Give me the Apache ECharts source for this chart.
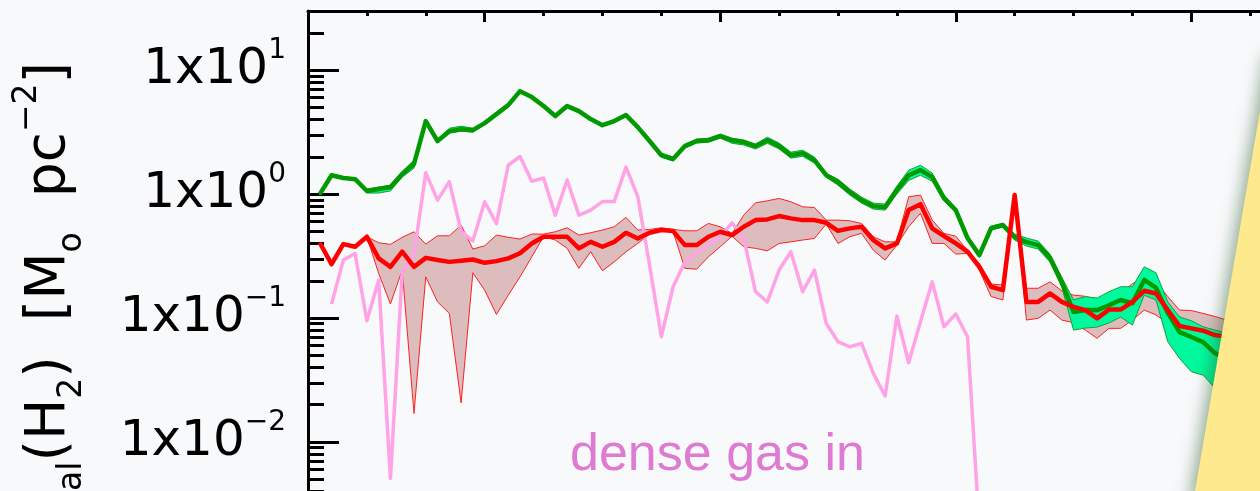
<!DOCTYPE html>
<html><head><meta charset="utf-8">
<script src="https://cdn.jsdelivr.net/npm/echarts@6/dist/echarts.min.js"></script>
<style>html,body{margin:0;padding:0;background:#f8f9fb;} #c{width:1260px;height:491px;}</style>
</head><body><div id="c"></div>
<script>
// ---- data ----
const radius = [1.2,1.4,1.6,1.8,2.0,2.2,2.4,2.6,2.8,3.0,3.2,3.4,3.6,3.8,4.0,4.2,4.4,4.6,4.8,5.0,
  5.2,5.4,5.6,5.8,6.0,6.2,6.4,6.6,6.8,7.0,7.2,7.4,7.6,7.8,8.0,8.2,8.4,8.6,8.8,9.0,
  9.2,9.4,9.6,9.8,10.0,10.2,10.4,10.6,10.8,11.0,11.2,11.4,11.6,11.8,12.0,12.2,12.4,12.6,12.8,13.0,
  13.2,13.4,13.6,13.8,14.0,14.2,14.4,14.6,14.8,15.0,15.2,15.4,15.6,15.8,16.0,16.2,16.4,16.6];

const greenLine = [1.00,1.42,1.35,1.32,1.06,1.10,1.14,1.45,1.75,3.88,
  2.68,3.22,3.34,3.28,3.74,4.42,5.22,6.77,6.06,5.13,
  4.26,5.13,4.67,4.03,3.60,3.88,4.34,3.47,2.68,2.06,
  1.92,2.44,2.68,2.72,2.94,2.72,2.63,2.44,2.72,2.44,
  2.06,2.14,1.88,1.42,1.25,1.04,0.894,0.800,0.785,1.08,
  1.42,1.56,1.37,0.929,0.743,0.442,0.322,0.532,0.562,0.450,
  0.410,0.388,0.305,0.195,0.112,0.116,0.116,0.127,0.140,0.132,
  0.203,0.175,0.110,0.0771,0.0703,0.0640,0.0522,0.0476];
const greenUpper = [1.02,1.45,1.38,1.35,1.10,1.14,1.18,1.53,1.88,3.95,
  2.73,3.40,3.53,3.40,3.81,4.50,5.32,6.90,6.17,5.23,
  4.34,5.23,4.76,4.11,3.67,3.95,4.42,3.60,2.78,2.14,
  1.99,2.53,2.78,2.82,3.05,2.82,2.73,2.53,2.88,2.58,
  2.18,2.26,1.99,1.47,1.32,1.10,0.945,0.846,0.830,1.16,
  1.56,1.71,1.48,0.982,0.771,0.459,0.334,0.552,0.583,0.476,
  0.442,0.418,0.328,0.214,0.140,0.149,0.145,0.163,0.179,0.179,
  0.259,0.232,0.135,0.102,0.0951,0.0851,0.080,0.0757];
const greenLower = [0.98,1.39,1.33,1.30,1.02,1.02,1.06,1.37,1.62,3.81,
  2.63,3.10,3.22,3.16,3.67,4.34,5.12,6.65,5.95,5.04,
  4.18,5.04,4.58,3.96,3.53,3.81,4.26,3.34,2.58,1.98,
  1.85,2.35,2.58,2.62,2.83,2.57,2.49,2.31,2.57,2.31,
  1.95,2.02,1.78,1.37,1.18,0.984,0.846,0.757,0.743,1.00,
  1.29,1.42,1.27,0.879,0.716,0.426,0.310,0.513,0.541,0.426,
  0.381,0.360,0.283,0.178,0.080,0.083,0.0846,0.0912,0.102,0.0878,
  0.153,0.140,0.0644,0.0473,0.0369,0.0347,0.0272,0.0218];

const redLine = [0.405,0.272,0.395,0.376,0.453,0.303,0.259,0.343,0.259,0.306,
  0.294,0.284,0.290,0.297,0.279,0.288,0.303,0.333,0.400,0.453,
  0.453,0.453,0.365,0.412,0.376,0.412,0.488,0.439,0.488,0.513,
  0.503,0.388,0.388,0.453,0.497,0.467,0.545,0.617,0.625,0.665,
  0.637,0.617,0.617,0.587,0.506,0.529,0.545,0.426,0.365,0.400,
  0.743,0.830,0.529,0.458,0.400,0.343,0.259,0.179,0.168,0.982,
  0.135,0.135,0.158,0.135,0.123,0.116,0.0995,0.117,0.117,0.135,
  0.166,0.158,0.116,0.0862,0.0826,0.0791,0.0729,0.0707];
const redUpper = [0.405,0.272,0.395,0.376,0.453,0.405,0.393,0.448,0.497,0.395,
  0.461,0.461,0.562,0.360,0.383,0.467,0.448,0.434,0.476,0.476,
  0.497,0.535,0.467,0.488,0.513,0.545,0.649,0.513,0.519,0.535,
  0.519,0.506,0.506,0.580,0.545,0.482,0.677,0.851,0.883,0.923,
  0.867,0.790,0.780,0.617,0.617,0.609,0.580,0.453,0.412,0.412,
  0.952,0.982,0.617,0.482,0.458,0.349,0.276,0.188,0.185,0.982,
  0.174,0.174,0.196,0.166,0.153,0.150,0.140,0.153,0.158,0.190,
  0.205,0.196,0.149,0.116,0.115,0.109,0.103,0.0964];
const redLower = [0.405,0.272,0.395,0.376,0.453,0.229,0.130,0.244,0.0170,0.215,
  0.135,0.109,0.0207,0.232,0.168,0.107,0.153,0.215,0.312,0.453,
  0.426,0.365,0.252,0.343,0.241,0.284,0.343,0.400,0.476,0.506,
  0.497,0.252,0.248,0.312,0.376,0.458,0.376,0.365,0.349,0.400,
  0.412,0.426,0.439,0.575,0.400,0.453,0.482,0.353,0.294,0.388,
  0.545,0.699,0.400,0.400,0.328,0.333,0.244,0.149,0.140,0.982,
  0.0964,0.0995,0.116,0.0964,0.0918,0.080,0.0686,0.0826,0.0826,0.0964,
  0.116,0.106,0.0906,0.0826,0.0777,0.0729,0.0686,0.0665];

const pinkLine = [null,0.130,0.294,0.332,0.0951,0.202,0.00509,0.235,0.322,1.49,
  0.894,1.26,0.50,0.42,0.867,0.578,1.71,2.01,1.27,1.35,
  0.677,1.30,0.677,0.743,0.870,0.870,1.65,0.955,0.268,0.0707,
  0.179,0.284,0.334,0.388,0.453,0.587,0.439,0.163,0.135,0.244,
  0.343,0.163,0.244,0.0906,0.0644,0.0587,0.0625,0.0358,0.0235,0.104,
  0.0436,0.0934,0.196,0.0851,0.108,0.0707,0.002];

const yTickValues = [0.01, 0.1, 1, 10];
const yTickLabels = ['1x10^\u22122', '1x10^\u22121', '1x10^0', '1x10^1'];
const yMinorTicks = [0.002,0.003,0.004,0.005,0.006,0.007,0.008,0.009,
  0.02,0.03,0.04,0.05,0.06,0.07,0.08,0.09,0.2,0.3,0.4,0.5,0.6,0.7,0.8,0.9,
  2,3,4,5,6,7,8,9,20];
const xMajorTicks = [4, 8, 12, 16];
const annotation = 'dense gas in';

// ---- chart ----
const chart = echarts.init(document.getElementById('c'), null, {renderer: 'canvas'});
const yMin = 0.001, yMax = 30, xMin = 1, xMax = 19;

function pairs(ys) {
  const out = [];
  for (let i = 0; i < ys.length; i++) if (ys[i] != null) out.push([radius[i], ys[i]]);
  return out;
}
function band(upper, lower, fill, stroke) {
  return {
    type: 'custom', xAxisIndex: 0, yAxisIndex: 0, clip: true, silent: true,
    data: radius.map((x, i) => [x, upper[i], lower[i]]),
    encode: {x: 0, y: [1, 2]},
    renderItem(params, api) {
      if (params.dataIndex !== 0) return null;
      const pts = [];
      for (let i = 0; i < radius.length; i++) pts.push(api.coord([radius[i], upper[i]]));
      for (let i = radius.length - 1; i >= 0; i--) pts.push(api.coord([radius[i], lower[i]]));
      return {type: 'polygon', shape: {points: pts}, style: {fill: fill, stroke: stroke, lineWidth: 1}};
    }
  };
}
function line(ys, color, width) {
  return {type: 'line', xAxisIndex: 0, yAxisIndex: 0, data: pairs(ys), showSymbol: false,
    lineStyle: {color: color, width: width, join: 'round'}, clip: true, silent: true};
}

const font = '"DejaVu Sans", sans-serif';
const option = {
  animation: false,
  backgroundColor: '#f8f9fb',
  grid: {left: 308, top: 11, width: 1060, height: 555, containLabel: false, outerBoundsMode: 'none'},
  xAxis: [
    {type: 'value', min: xMin, max: xMax, interval: 1, position: 'top',
      axisLine: {show: true, onZero: false, lineStyle: {color: '#000', width: 3}},
      axisTick: {show: true, inside: true, length: 5, lineStyle: {color: '#000', width: 3}},
      axisLabel: {show: false}, splitLine: {show: false}},
    {type: 'value', min: xMin, max: xMax, position: 'top',
      axisLine: {show: false, onZero: false},
      axisTick: {show: true, inside: true, length: 11, customValues: xMajorTicks, lineStyle: {color: '#000', width: 3}},
      axisLabel: {show: false}, splitLine: {show: false}}
  ],
  yAxis: [
    {type: 'log', logBase: 10, min: yMin, max: yMax, position: 'left',
      axisLine: {show: true, onZero: false, lineStyle: {color: '#000', width: 3}},
      axisTick: {show: true, inside: true, length: 31, lineStyle: {color: '#000', width: 3}},
      splitLine: {show: false},
      axisLabel: {show: true, margin: 22, showMaxLabel: false, showMinLabel: false,
        formatter: function (v) {
          const i = yTickValues.findIndex(t => Math.abs(Math.log10(t) - Math.log10(v)) < 1e-6);
          if (i < 0) return '';
          const parts = yTickLabels[i].split('^');
          return '{b|' + parts[0] + '}{s|' + parts[1] + '}';
        },
        rich: {
          b: {fontFamily: font, fontSize: 50, lineHeight: 66, color: '#000'},
          s: {fontFamily: font, fontSize: 28, lineHeight: 30, verticalAlign: 'top', color: '#000'}
        }}},
    {type: 'value', min: Math.log10(yMin), max: Math.log10(yMax), position: 'left',
      axisLine: {show: false, onZero: false}, splitLine: {show: false}, axisLabel: {show: false},
      axisTick: {show: true, inside: true, length: 16, customValues: yMinorTicks.map(v => Math.log10(v)),
        lineStyle: {color: '#000', width: 3}}}
  ],
  series: [
    band(redUpper, redLower, '#dcbcbc', '#ff2020'),
    band(greenUpper, greenLower, '#00f99c', '#1aa03a'),
    line(pinkLine, '#ffa3e6', 3.5),
    line(greenLine, '#009a00', 4.5),
    line(redLine, '#ff0000', 4.5)
  ],
  graphic: [
    {type: 'text', z: 50, x: 570, y: 456,
      style: {text: annotation, fill: '#de7ad2', font: '52px "Liberation Sans", Arial, sans-serif',
        verticalAlign: 'middle', align: 'left'}},
    {type: 'text', z: 50, rotation: Math.PI / 2, x: 50, y: 62,
      style: {
        text: '{m|\u03A3}{sub|gal}{m|(H}{sub|2}{m|)  [M}{sub|o}{m|  pc}{sup|\u22122}{m|]}',
        align: 'right', verticalAlign: 'middle', fill: '#000',
        rich: {
          m: {fontFamily: font, fontSize: 55, lineHeight: 78, fill: '#000'},
          sub: {fontFamily: font, fontSize: 33, lineHeight: 38, verticalAlign: 'bottom', fill: '#000'},
          sup: {fontFamily: font, fontSize: 33, lineHeight: 38, verticalAlign: 'top', fill: '#000'}
        }
      }},
    {type: 'polygon', z: 60,
      shape: {points: [[1269.5, 55], [1320, 55], [1320, 500], [1193.5, 500]]},
      style: {fill: '#feea8c', shadowBlur: 16, shadowColor: 'rgba(40,90,40,0.5)', shadowOffsetX: -4}}
  ]
};
chart.setOption(option);
</script>
</body></html>
